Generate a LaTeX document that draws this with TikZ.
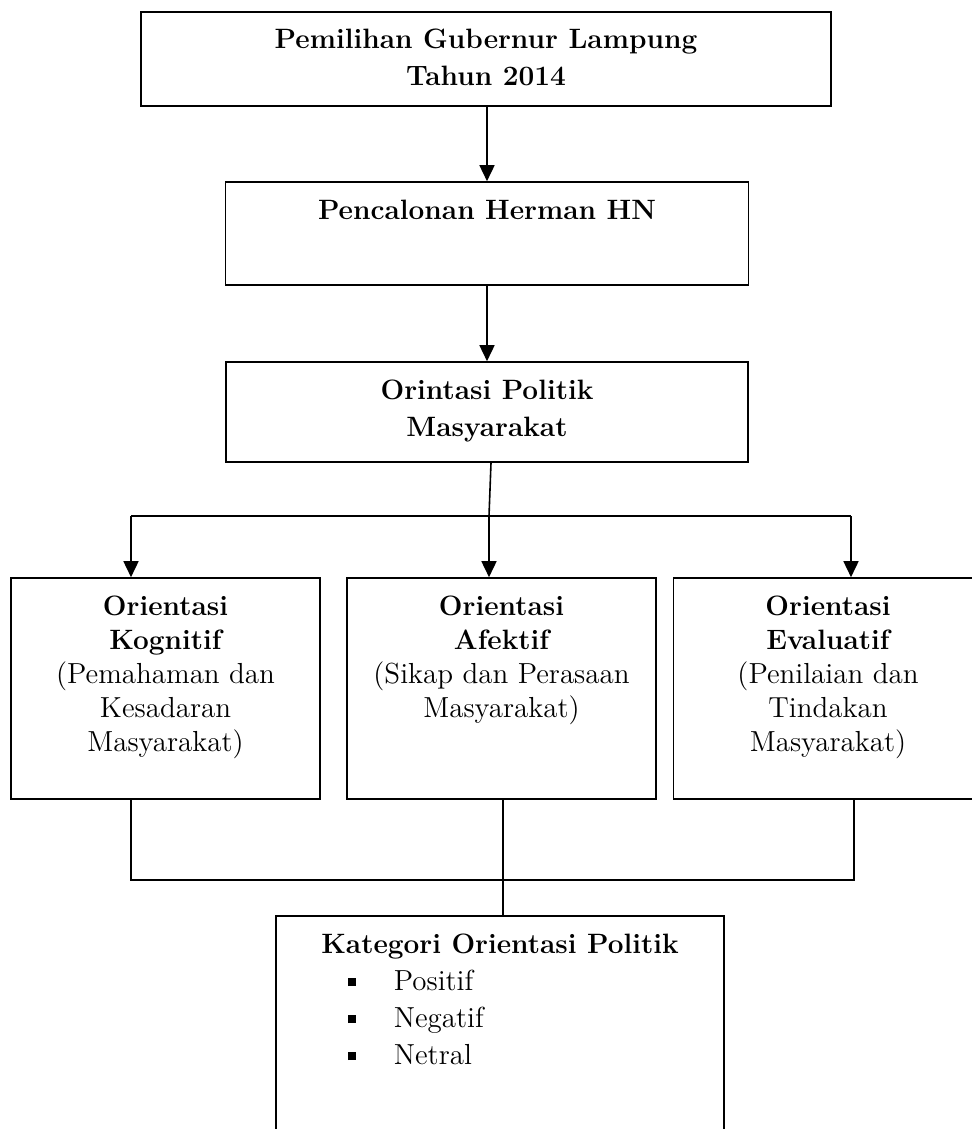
\documentclass[tikz,border=0pt]{standalone}
\usetikzlibrary{arrows.meta,calc}
\newcommand{\tebal}[1]{{\fontsize{14}{17}\selectfont\bfseries #1}}

\begin{document}
\begin{tikzpicture}
	[x=0.5pt,y=-0.5pt,line width=0.8pt,
	kotak/.style={draw,line width=0.8pt,align=center,inner xsep=2pt,inner ysep=0pt,
		font=\fontsize{14}{18.5}\selectfont\bfseries},
	kecil/.style={kotak,font=\fontsize{14.5}{17}\selectfont,
		minimum width=154.5pt,minimum height=110.5pt},
	panah/.style={-{Triangle[length=8pt,width=7.5pt]}}]
	\clip (0,0) rectangle (972,1129);
	\node[kotak,minimum width=345pt,minimum height=47pt,text height=37pt,text depth=10pt] (pilgub) at (486,59)
		{Pemilihan Gubernur Lampung\\Tahun 2014};
	\node[kotak,minimum width=261.5pt,minimum height=51.5pt,text height=18.5pt,text depth=33pt] (pencalonan) at (487,233.5)
		{Pencalonan Herman HN};
	\node[kotak,minimum width=261pt,minimum height=50pt,text height=37pt,text depth=13pt] (orientasi) at (487,412)
		{Orintasi Politik\\Masyarakat};
	
	\node[kecil,text height=86.5pt,text depth=24pt] (kognitif) at (165.5,688.5)
		{\tebal{Orientasi}\\\tebal{Kognitif}\\(Pemahaman dan\\Kesadaran\\Masyarakat)};
	\node[kecil,text height=69.5pt,text depth=41pt] (afektif) at (501.5,688.5)
		{\tebal{Orientasi}\\\tebal{Afektif}\\(Sikap dan Perasaan\\Masyarakat)};
	\node[kecil,text height=86.5pt,text depth=24pt] (evaluatif) at (828,688.5)
		{\tebal{Orientasi}\\\tebal{Evaluatif}\\(Penilaian dan\\Tindakan\\Masyarakat)};
	
	\node[kotak,minimum width=224pt,minimum height=122pt,text height=18.5pt,text depth=103.5pt] (kategori) at (500,1038)
		{Kategori Orientasi Politik};
	\node[anchor=base west,align=left,inner sep=0pt,font=\fontsize{14.5}{18.5}\selectfont] (jenis) at (347,1064)
		{\makebox[23pt][l]{\raisebox{2pt}{\rule{4pt}{4pt}}}Positif\\
		 \makebox[23pt][l]{\raisebox{2pt}{\rule{4pt}{4pt}}}Negatif\\
		 \makebox[23pt][l]{\raisebox{2pt}{\rule{4pt}{4pt}}}Netral};
	
	\coordinate (cabang) at (489,516);
	\coordinate (cabkiri) at (131,516);
	\coordinate (cabkanan) at (851,516);
	\coordinate (gabkiri) at (131,880);
	\coordinate (gabtengah) at (503,880);
	\coordinate (gabkanan) at (854,880);
	
	\draw[panah] (pilgub.south -| pencalonan.north) -- (pencalonan.north);
	\draw[panah] (pencalonan.south) -- (orientasi.north);
	\draw ([xshift=2pt]orientasi.south) -- (cabang);
	\draw (cabkiri) -- (cabkanan);
	\foreach \asal/\tujuan in {cabkiri/kognitif,cabang/afektif,cabkanan/evaluatif}
	{
		\draw[panah] (\asal) -- (\asal |- \tujuan.north);
	}
	\draw (gabkiri |- kognitif.south) -- (gabkiri) -- (gabkanan) -- (gabkanan |- evaluatif.south);
	\draw (gabtengah |- afektif.south) -- (gabtengah |- kategori.north);
\end{tikzpicture}
\end{document}
